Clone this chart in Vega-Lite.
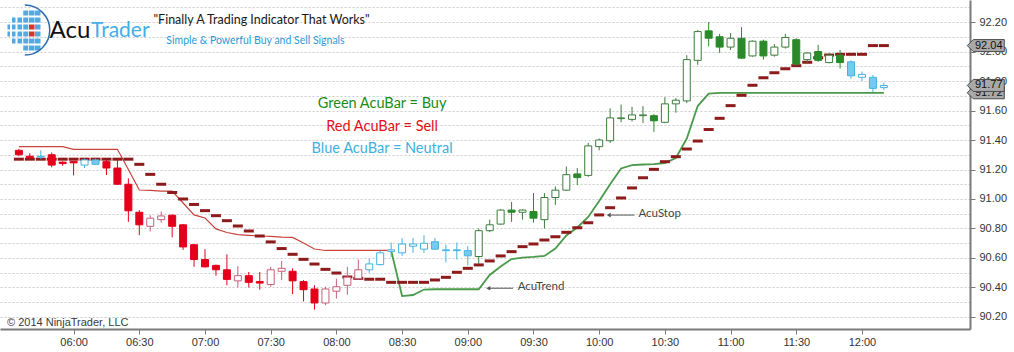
{
"$schema":"https://vega.github.io/schema/vega-lite/v6.json",
"width":970,"height":329,"autosize":"none",
"padding":{"left":0,"top":0,"right":44,"bottom":23},
"background":"white",
"config":{"view":{"stroke":null}},
"resolve":{"axis":{"y":"independent"}},
"datasets":{
"bars":[
{"t":"2014-01-02T05:35:00","o":91.33,"h":91.34,"l":91.29,"c":91.30,"signal":"Sell","stop":91.27,"dn":91.355},
{"t":"2014-01-02T05:40:00","o":91.29,"h":91.31,"l":91.27,"c":91.28,"signal":"Sell","stop":91.27,"dn":91.355},
{"t":"2014-01-02T05:45:00","o":91.285,"h":91.33,"l":91.27,"c":91.29,"signal":"Neutral","stop":91.27,"dn":91.355},
{"t":"2014-01-02T05:50:00","o":91.30,"h":91.315,"l":91.215,"c":91.23,"signal":"Sell","stop":91.27,"dn":91.355},
{"t":"2014-01-02T05:55:00","o":91.25,"h":91.255,"l":91.225,"c":91.24,"signal":"Sell","stop":91.27,"dn":91.355},
{"t":"2014-01-02T06:00:00","o":91.255,"h":91.255,"l":91.16,"c":91.245,"signal":"Sell","stop":91.27,"dn":91.337},
{"t":"2014-01-02T06:05:00","o":91.23,"h":91.275,"l":91.21,"c":91.265,"signal":"Neutral","stop":91.27,"dn":91.337},
{"t":"2014-01-02T06:10:00","o":91.265,"h":91.275,"l":91.23,"c":91.235,"signal":"Neutral","stop":91.27,"dn":91.337},
{"t":"2014-01-02T06:15:00","o":91.253,"h":91.265,"l":91.163,"c":91.21,"signal":"Sell","stop":91.27,"dn":91.337},
{"t":"2014-01-02T06:20:00","o":91.21,"h":91.265,"l":91.095,"c":91.10,"signal":"Sell","stop":91.27,"dn":91.337},
{"t":"2014-01-02T06:25:00","o":91.10,"h":91.14,"l":90.845,"c":90.92,"signal":"Sell","stop":91.27,"dn":91.20},
{"t":"2014-01-02T06:30:00","o":90.91,"h":90.925,"l":90.755,"c":90.825,"signal":"Sell","stop":91.235,"dn":91.061},
{"t":"2014-01-02T06:35:00","o":90.815,"h":90.89,"l":90.78,"c":90.87,"signal":"Sell","stop":91.167,"dn":91.058},
{"t":"2014-01-02T06:40:00","o":90.86,"h":90.915,"l":90.84,"c":90.885,"signal":"Sell","stop":91.10,"dn":91.054},
{"t":"2014-01-02T06:45:00","o":90.89,"h":90.895,"l":90.74,"c":90.815,"signal":"Sell","stop":91.044,"dn":91.054},
{"t":"2014-01-02T06:50:00","o":90.825,"h":90.83,"l":90.655,"c":90.675,"signal":"Sell","stop":91.0,"dn":90.973},
{"t":"2014-01-02T06:55:00","o":90.69,"h":90.695,"l":90.54,"c":90.59,"signal":"Sell","stop":90.963,"dn":90.892},
{"t":"2014-01-02T07:00:00","o":90.59,"h":90.66,"l":90.535,"c":90.54,"signal":"Sell","stop":90.921,"dn":90.871},
{"t":"2014-01-02T07:05:00","o":90.55,"h":90.555,"l":90.48,"c":90.52,"signal":"Sell","stop":90.887,"dn":90.797},
{"t":"2014-01-02T07:10:00","o":90.52,"h":90.625,"l":90.415,"c":90.455,"signal":"Sell","stop":90.853,"dn":90.773},
{"t":"2014-01-02T07:15:00","o":90.445,"h":90.545,"l":90.40,"c":90.48,"signal":"Sell","stop":90.817,"dn":90.759},
{"t":"2014-01-02T07:20:00","o":90.48,"h":90.505,"l":90.40,"c":90.435,"signal":"Sell","stop":90.783,"dn":90.754},
{"t":"2014-01-02T07:25:00","o":90.44,"h":90.505,"l":90.385,"c":90.43,"signal":"Sell","stop":90.749,"dn":90.749},
{"t":"2014-01-02T07:30:00","o":90.42,"h":90.54,"l":90.405,"c":90.52,"signal":"Sell","stop":90.709,"dn":90.746},
{"t":"2014-01-02T07:35:00","o":90.51,"h":90.58,"l":90.45,"c":90.53,"signal":"Sell","stop":90.664,"dn":90.742},
{"t":"2014-01-02T07:40:00","o":90.51,"h":90.53,"l":90.355,"c":90.445,"signal":"Sell","stop":90.625,"dn":90.74},
{"t":"2014-01-02T07:45:00","o":90.44,"h":90.45,"l":90.305,"c":90.385,"signal":"Sell","stop":90.591,"dn":90.702},
{"t":"2014-01-02T07:50:00","o":90.39,"h":90.415,"l":90.25,"c":90.295,"signal":"Sell","stop":90.559,"dn":90.661},
{"t":"2014-01-02T07:55:00","o":90.295,"h":90.405,"l":90.28,"c":90.39,"signal":"Sell","stop":90.523,"dn":90.651},
{"t":"2014-01-02T08:00:00","o":90.375,"h":90.46,"l":90.325,"c":90.405,"signal":"Sell","stop":90.498,"dn":90.651},
{"t":"2014-01-02T08:05:00","o":90.415,"h":90.54,"l":90.35,"c":90.47,"signal":"Sell","stop":90.471,"dn":90.651},
{"t":"2014-01-02T08:10:00","o":90.46,"h":90.59,"l":90.455,"c":90.52,"signal":"Sell","stop":90.462,"dn":90.651},
{"t":"2014-01-02T08:15:00","o":90.52,"h":90.595,"l":90.50,"c":90.56,"signal":"Neutral","stop":90.456,"dn":90.651},
{"t":"2014-01-02T08:20:00","o":90.555,"h":90.65,"l":90.55,"c":90.635,"signal":"Neutral","stop":90.456,"dn":90.651},
{"t":"2014-01-02T08:25:00","o":90.645,"h":90.705,"l":90.605,"c":90.655,"signal":"Neutral","stop":90.435,"dn":90.651,"up":90.651},
{"t":"2014-01-02T08:30:00","o":90.635,"h":90.735,"l":90.615,"c":90.695,"signal":"Neutral","stop":90.435,"up":90.342},
{"t":"2014-01-02T08:35:00","o":90.68,"h":90.735,"l":90.635,"c":90.695,"signal":"Neutral","stop":90.435,"up":90.349},
{"t":"2014-01-02T08:40:00","o":90.66,"h":90.755,"l":90.635,"c":90.70,"signal":"Neutral","stop":90.435,"up":90.386},
{"t":"2014-01-02T08:45:00","o":90.71,"h":90.735,"l":90.655,"c":90.66,"signal":"Neutral","stop":90.451,"up":90.388},
{"t":"2014-01-02T08:50:00","o":90.655,"h":90.69,"l":90.57,"c":90.65,"signal":"Neutral","stop":90.469,"up":90.388},
{"t":"2014-01-02T08:55:00","o":90.655,"h":90.705,"l":90.59,"c":90.65,"signal":"Neutral","stop":90.503,"up":90.388},
{"t":"2014-01-02T09:00:00","o":90.65,"h":90.68,"l":90.55,"c":90.615,"signal":"Neutral","stop":90.53,"up":90.388},
{"t":"2014-01-02T09:05:00","o":90.61,"h":90.80,"l":90.56,"c":90.785,"signal":"Buy","stop":90.553,"up":90.388},
{"t":"2014-01-02T09:10:00","o":90.785,"h":90.86,"l":90.775,"c":90.825,"signal":"Buy","stop":90.58,"up":90.485},
{"t":"2014-01-02T09:15:00","o":90.83,"h":90.93,"l":90.825,"c":90.925,"signal":"Buy","stop":90.614,"up":90.542},
{"t":"2014-01-02T09:20:00","o":90.925,"h":90.98,"l":90.845,"c":90.91,"signal":"Buy","stop":90.643,"up":90.593},
{"t":"2014-01-02T09:25:00","o":90.91,"h":90.93,"l":90.86,"c":90.925,"signal":"Buy","stop":90.677,"up":90.603},
{"t":"2014-01-02T09:30:00","o":90.915,"h":91.04,"l":90.84,"c":90.87,"signal":"Buy","stop":90.695,"up":90.607},
{"t":"2014-01-02T09:35:00","o":90.86,"h":91.04,"l":90.80,"c":91.01,"signal":"Buy","stop":90.722,"up":90.614},
{"t":"2014-01-02T09:40:00","o":91.01,"h":91.085,"l":90.96,"c":91.06,"signal":"Buy","stop":90.744,"up":90.664},
{"t":"2014-01-02T09:45:00","o":91.06,"h":91.22,"l":91.055,"c":91.165,"signal":"Buy","stop":90.774,"up":90.753},
{"t":"2014-01-02T09:50:00","o":91.17,"h":91.21,"l":91.095,"c":91.145,"signal":"Buy","stop":90.805,"up":90.807},
{"t":"2014-01-02T09:55:00","o":91.16,"h":91.38,"l":91.15,"c":91.36,"signal":"Buy","stop":90.839,"up":90.878},
{"t":"2014-01-02T10:00:00","o":91.355,"h":91.41,"l":91.33,"c":91.40,"signal":"Buy","stop":90.892,"up":90.986},
{"t":"2014-01-02T10:05:00","o":91.395,"h":91.615,"l":91.38,"c":91.55,"signal":"Buy","stop":90.941,"up":91.10},
{"t":"2014-01-02T10:10:00","o":91.545,"h":91.64,"l":91.52,"c":91.55,"signal":"Buy","stop":91.007,"up":91.207},
{"t":"2014-01-02T10:15:00","o":91.54,"h":91.625,"l":91.525,"c":91.57,"signal":"Buy","stop":91.075,"up":91.23},
{"t":"2014-01-02T10:20:00","o":91.565,"h":91.63,"l":91.515,"c":91.57,"signal":"Buy","stop":91.144,"up":91.234},
{"t":"2014-01-02T10:25:00","o":91.565,"h":91.575,"l":91.455,"c":91.53,"signal":"Buy","stop":91.201,"up":91.236},
{"t":"2014-01-02T10:30:00","o":91.52,"h":91.69,"l":91.515,"c":91.645,"signal":"Buy","stop":91.253,"up":91.244},
{"t":"2014-01-02T10:35:00","o":91.645,"h":91.685,"l":91.585,"c":91.67,"signal":"Buy","stop":91.287,"up":91.278},
{"t":"2014-01-02T10:40:00","o":91.665,"h":91.975,"l":91.65,"c":91.945,"signal":"Buy","stop":91.339,"up":91.41},
{"t":"2014-01-02T10:45:00","o":91.94,"h":92.145,"l":91.91,"c":92.135,"signal":"Buy","stop":91.393,"up":91.63},
{"t":"2014-01-02T10:50:00","o":92.14,"h":92.20,"l":92.035,"c":92.09,"signal":"Buy","stop":91.471,"up":91.715},
{"t":"2014-01-02T10:55:00","o":92.10,"h":92.12,"l":91.99,"c":92.03,"signal":"Buy","stop":91.547,"up":91.72},
{"t":"2014-01-02T11:00:00","o":92.03,"h":92.125,"l":92.01,"c":92.09,"signal":"Buy","stop":91.633,"up":91.72},
{"t":"2014-01-02T11:05:00","o":92.09,"h":92.165,"l":91.95,"c":91.955,"signal":"Buy","stop":91.703,"up":91.72},
{"t":"2014-01-02T11:10:00","o":91.97,"h":92.075,"l":91.965,"c":92.07,"signal":"Buy","stop":91.771,"up":91.72},
{"t":"2014-01-02T11:15:00","o":92.07,"h":92.08,"l":91.945,"c":91.97,"signal":"Buy","stop":91.822,"up":91.72},
{"t":"2014-01-02T11:20:00","o":91.975,"h":92.05,"l":91.965,"c":92.03,"signal":"Buy","stop":91.856,"up":91.72},
{"t":"2014-01-02T11:25:00","o":92.03,"h":92.12,"l":92.02,"c":92.095,"signal":"Buy","stop":91.883,"up":91.72},
{"t":"2014-01-02T11:30:00","o":92.08,"h":92.09,"l":91.905,"c":91.915,"signal":"Buy","stop":91.904,"up":91.72},
{"t":"2014-01-02T11:35:00","o":91.945,"h":91.995,"l":91.915,"c":91.99,"signal":"Buy","stop":91.927,"up":91.72},
{"t":"2014-01-02T11:40:00","o":92.0,"h":92.045,"l":91.93,"c":91.94,"signal":"Buy","stop":91.958,"up":91.72},
{"t":"2014-01-02T11:45:00","o":91.925,"h":91.99,"l":91.92,"c":91.975,"signal":"Buy","stop":91.976,"up":91.72},
{"t":"2014-01-02T11:50:00","o":91.975,"h":92.01,"l":91.885,"c":91.925,"signal":"Buy","stop":91.981,"up":91.72},
{"t":"2014-01-02T11:55:00","o":91.93,"h":91.94,"l":91.815,"c":91.835,"signal":"Neutral","stop":91.981,"up":91.72},
{"t":"2014-01-02T12:00:00","o":91.825,"h":91.865,"l":91.80,"c":91.845,"signal":"Neutral","stop":91.981,"up":91.72},
{"t":"2014-01-02T12:05:00","o":91.825,"h":91.84,"l":91.725,"c":91.75,"signal":"Neutral","stop":92.04,"up":91.72},
{"t":"2014-01-02T12:10:00","o":91.755,"h":91.79,"l":91.74,"c":91.77,"signal":"Neutral","stop":92.04,"up":91.72}
],
"tags":[
{"t":"2014-01-02T12:56:32","p":91.72,"label":"91.72"},
{"t":"2014-01-02T12:56:32","p":91.77,"label":"91.77"},
{"t":"2014-01-02T12:56:32","p":92.04,"label":"92.04"}
],
"arrows":[
{"t":"2014-01-02T10:04:21","t2":"2014-01-02T10:16:06","p":90.891},
{"t":"2014-01-02T09:09:21","t2":"2014-01-02T09:20:39","p":90.395}
]
},
"encoding":{
"x":{"field":"t","type":"temporal","title":null,
"scale":{"domain":[{"year":2014,"month":1,"date":2,"hours":5,"minutes":28,"seconds":40},{"year":2014,"month":1,"date":2,"hours":12,"minutes":47,"seconds":3}],"nice":false},
"axis":{"values":[
{"year":2014,"month":1,"date":2,"hours":6,"minutes":0},{"year":2014,"month":1,"date":2,"hours":6,"minutes":30},
{"year":2014,"month":1,"date":2,"hours":7,"minutes":0},{"year":2014,"month":1,"date":2,"hours":7,"minutes":30},
{"year":2014,"month":1,"date":2,"hours":8,"minutes":0},{"year":2014,"month":1,"date":2,"hours":8,"minutes":30},
{"year":2014,"month":1,"date":2,"hours":9,"minutes":0},{"year":2014,"month":1,"date":2,"hours":9,"minutes":30},
{"year":2014,"month":1,"date":2,"hours":10,"minutes":0},{"year":2014,"month":1,"date":2,"hours":10,"minutes":30},
{"year":2014,"month":1,"date":2,"hours":11,"minutes":0},{"year":2014,"month":1,"date":2,"hours":11,"minutes":30},
{"year":2014,"month":1,"date":2,"hours":12,"minutes":0}],
"format":"%H:%M","grid":false,"domainColor":"#7a7a7a","domainWidth":2,"tickColor":"#7a7a7a","tickSize":5,
"labelFont":"Liberation Sans","labelFontSize":11,"labelColor":"#333333","labelPadding":2,"labelFlush":false,"labelOverlap":false}}
},
"layer":[
{"data":{"name":"bars"},"transform":[{"filter":"isValid(datum.dn)"}],
 "mark":{"type":"line","color":"#c8433c","strokeWidth":1.2},
 "encoding":{"y":{"field":"dn","type":"quantitative","title":null,
  "scale":{"domain":[90.1186,92.3492],"zero":false,"nice":false},
  "axis":{"orient":"left","values":[90.2,90.3,90.4,90.5,90.6,90.7,90.8,90.9,91.0,91.1,91.2,91.3,91.4,91.5,91.6,91.7,91.8,91.9,92.0,92.1,92.2,92.3],
   "grid":true,"gridColor":"#cccccc","gridDash":[2,2],"gridWidth":1,
   "domain":false,"ticks":false,"labels":false,"title":null}}}},
{"data":{"name":"bars"},"transform":[{"filter":"isValid(datum.up)"}],
 "mark":{"type":"line","color":"#4b9a4b","strokeWidth":1.8},
 "encoding":{"y":{"field":"up","type":"quantitative","title":null,
  "axis":{"orient":"right","values":[90.2,90.4,90.6,90.8,91.0,91.2,91.4,91.6,91.8,92.0,92.2],"format":".2f",
   "grid":false,"domainColor":"#7a7a7a","domainWidth":2,"tickColor":"#7a7a7a","tickSize":5,
   "labelFont":"Liberation Sans","labelFontSize":11,"labelColor":"#333333","labelPadding":4,"labelOverlap":false,"labelBaseline":"middle","title":null}}}},
{"data":{"name":"bars"},
 "mark":{"type":"tick","orient":"horizontal","color":"#8e1b1b","thickness":3,"size":10,"opacity":1},
 "encoding":{"y":{"field":"stop","type":"quantitative","axis":null}}},
{"data":{"name":"bars"},
 "mark":{"type":"rule","strokeWidth":1},
 "encoding":{"y":{"field":"l","type":"quantitative","axis":null},"y2":{"field":"h"},
  "stroke":{"condition":[
   {"test":"datum.signal=='Sell' && datum.c<datum.o","value":"#e3001b"},
   {"test":"datum.signal=='Sell'","value":"#c4607a"},
   {"test":"datum.signal=='Buy' && datum.c<datum.o","value":"#2a8a2a"},
   {"test":"datum.signal=='Buy'","value":"#3c7c3c"}],"value":"#45b2de"}}},
{"data":{"name":"bars"},
 "mark":{"type":"bar","width":7,"strokeWidth":1,"orient":"vertical"},
 "encoding":{"y":{"field":"o","type":"quantitative","axis":null},"y2":{"field":"c"},
  "fill":{"condition":[
   {"test":"datum.signal=='Sell' && datum.c<datum.o","value":"#e3001b"},
   {"test":"datum.signal=='Buy' && datum.c<datum.o","value":"#2a8a2a"},
   {"test":"datum.signal=='Neutral' && datum.c<datum.o","value":"#74cbef"}],"value":"#ffffff"},
  "stroke":{"condition":[
   {"test":"datum.signal=='Sell' && datum.c<datum.o","value":"#e3001b"},
   {"test":"datum.signal=='Sell'","value":"#c4607a"},
   {"test":"datum.signal=='Buy' && datum.c<datum.o","value":"#2a8a2a"},
   {"test":"datum.signal=='Buy'","value":"#3c7c3c"}],"value":"#45b2de"}}},
{"data":{"name":"arrows"},
 "mark":{"type":"rule","color":"#555555","strokeWidth":1},
 "encoding":{"x2":{"field":"t2"},"y":{"field":"p","type":"quantitative","axis":null}}},
{"data":{"name":"arrows"},
 "mark":{"type":"point","shape":"triangle-left","filled":true,"color":"#555555","size":22,"opacity":1},
 "encoding":{"y":{"field":"p","type":"quantitative","axis":null}}},
{"data":{"values":[{"t":"2014-01-02T10:17:55","p":90.896,"label":"AcuStop"},{"t":"2014-01-02T09:22:47","p":90.401,"label":"AcuTrend"}]},
 "mark":{"type":"text","align":"left","baseline":"middle","font":"Lato","fontSize":11.5,"color":"#444444"},
 "encoding":{"y":{"field":"p","type":"quantitative","axis":null},"text":{"field":"label"}}},
{"data":{"values":[{"t":"2014-01-02T08:20:52","p":91.644,"label":"Green AcuBar = Buy"}]},
 "mark":{"type":"text","align":"center","baseline":"middle","font":"Lato","fontSize":14.5,"color":"#1a8c1a"},
 "encoding":{"y":{"field":"p","type":"quantitative","axis":null},"text":{"field":"label"}}},
{"data":{"values":[{"t":"2014-01-02T08:20:52","p":91.488,"label":"Red AcuBar = Sell"}]},
 "mark":{"type":"text","align":"center","baseline":"middle","font":"Lato","fontSize":14.5,"color":"#e0101a"},
 "encoding":{"y":{"field":"p","type":"quantitative","axis":null},"text":{"field":"label"}}},
{"data":{"values":[{"t":"2014-01-02T08:20:52","p":91.339,"label":"Blue AcuBar = Neutral"}]},
 "mark":{"type":"text","align":"center","baseline":"middle","font":"Lato","fontSize":14.5,"color":"#3fb0e0"},
 "encoding":{"y":{"field":"p","type":"quantitative","axis":null},"text":{"field":"label"}}},
{"data":{"values":[{"t":"2014-01-02T06:36:28","p":92.2136,"label":"\"Finally A Trading Indicator That Works\""}]},
 "mark":{"type":"text","align":"left","baseline":"middle","font":"Lato","fontSize":12.5,"color":"#1a1a1a"},
 "encoding":{"y":{"field":"p","type":"quantitative","axis":null},"text":{"field":"label"}}},
{"data":{"values":[{"t":"2014-01-02T06:42:20","p":92.0712,"label":"Simple & Powerful Buy and Sell Signals"}]},
 "mark":{"type":"text","align":"left","baseline":"middle","font":"Lato","fontSize":10.5,"color":"#2b9ad6"},
 "encoding":{"y":{"field":"p","type":"quantitative","axis":null},"text":{"field":"label"}}},
{"data":{"values":[{"t":"2014-01-02T05:49:01","p":92.139,"label":"Acu"}]},
 "mark":{"type":"text","align":"left","baseline":"middle","font":"Lato","fontSize":24,"color":"#111111"},
 "encoding":{"y":{"field":"p","type":"quantitative","axis":null},"text":{"field":"label"}}},
{"data":{"values":[{"t":"2014-01-02T06:08:54","p":92.139,"label":"Trader"}]},
 "mark":{"type":"text","align":"left","baseline":"middle","font":"Lato","fontSize":21,"color":"#45aee6","dx":-2},
 "encoding":{"y":{"field":"p","type":"quantitative","axis":null},"text":{"field":"label"}}},
{"data":{"values":[{"t":"2014-01-02T05:39:31","p":92.149}]},
 "mark":{"type":"point","filled":true,"fill":"#54a9e0","strokeWidth":0,"opacity":1,"size":4,
  "shape":"M -5.5 -19 h 5 v 5 h -5 Z M 0.25 -19 h 5.5 v 5 h -5.5 Z M 6.25 -19 h 5.5 v 5 h -5.5 Z M -16.75 -12 h 3.5 v 5 h -3.5 Z M -11.25 -12 h 4.5 v 5 h -4.5 Z M -5.5 -12 h 5 v 5 h -5 Z M 0.25 -12 h 5.5 v 5 h -5.5 Z M 6.25 -12 h 5.5 v 5 h -5.5 Z M -21.25 -5 h 2.5 v 5 h -2.5 Z M -16.75 -5 h 3.5 v 5 h -3.5 Z M -11.25 -5 h 4.5 v 5 h -4.5 Z M -5.5 -5 h 5 v 5 h -5 Z M 6.25 -5 h 5.5 v 5 h -5.5 Z M -21.25 2 h 2.5 v 5 h -2.5 Z M -16.75 2 h 3.5 v 5 h -3.5 Z M -11.25 2 h 4.5 v 5 h -4.5 Z M -5.5 2 h 5 v 5 h -5 Z M 6.25 2 h 5.5 v 5 h -5.5 Z M -16.75 9 h 3.5 v 5 h -3.5 Z M -11.25 9 h 4.5 v 5 h -4.5 Z M -5.5 9 h 5 v 5 h -5 Z M 0.25 9 h 5.5 v 5 h -5.5 Z M 6.25 9 h 5.5 v 5 h -5.5 Z M -5.5 16 h 5 v 5 h -5 Z M 0.25 16 h 5.5 v 5 h -5.5 Z M 6.25 16 h 5.5 v 5 h -5.5 Z"},
 "encoding":{"y":{"field":"p","type":"quantitative","axis":null}}},
{"data":{"values":[{"t":"2014-01-02T05:39:31","p":92.149}]},
 "mark":{"type":"point","filled":true,"fill":"#d9342b","strokeWidth":0,"opacity":1,"size":4,
  "shape":"M 0.25 -5 h 5.5 v 5 h -5.5 Z M 0.25 2 h 5.5 v 5 h -5.5 Z"},
 "encoding":{"y":{"field":"p","type":"quantitative","axis":null}}},
{"data":{"values":[{"t":"2014-01-02T05:39:31","p":92.149}]},
 "mark":{"type":"point","filled":false,"stroke":"#2a6db5","strokeWidth":1.5,"opacity":1,"size":4,
  "shape":"M -4 -24.5 A 25 25 0 0 1 -4 25.5"},
 "encoding":{"y":{"field":"p","type":"quantitative","axis":null}}},
{"data":{"values":[{"t":"2014-01-02T05:29:35","p":90.159,"label":"© 2014 NinjaTrader, LLC"}]},
 "mark":{"type":"text","align":"left","baseline":"middle","font":"Liberation Sans","fontSize":11,"color":"#3a3a3a"},
 "encoding":{"y":{"field":"p","type":"quantitative","axis":null},"text":{"field":"label"}}},
{"data":{"name":"tags"},"transform":[{"filter":"datum.label=='91.72'"}],
 "mark":{"type":"point","filled":true,"fill":"#a9a9a9","stroke":"#4a4a4a","strokeWidth":1,"opacity":1,"size":4,
  "shape":"M -18.5 0 L -12.5 -6 L 18.5 -6 L 18.5 6 L -12.5 6 Z"},
 "encoding":{"y":{"field":"p","type":"quantitative","axis":null}}},
{"data":{"name":"tags"},"transform":[{"filter":"datum.label=='91.72'"}],
 "mark":{"type":"text","align":"center","baseline":"middle","dx":3,"font":"Liberation Sans","fontSize":11,"color":"#111111"},
 "encoding":{"y":{"field":"p","type":"quantitative","axis":null},"text":{"field":"label"}}},
{"data":{"name":"tags"},"transform":[{"filter":"datum.label!='91.72'"}],
 "mark":{"type":"point","filled":true,"fill":"#a9a9a9","stroke":"#4a4a4a","strokeWidth":1,"opacity":1,"size":4,
  "shape":"M -18.5 0 L -12.5 -6 L 18.5 -6 L 18.5 6 L -12.5 6 Z"},
 "encoding":{"y":{"field":"p","type":"quantitative","axis":null}}},
{"data":{"name":"tags"},"transform":[{"filter":"datum.label!='91.72'"}],
 "mark":{"type":"text","align":"center","baseline":"middle","dx":3,"font":"Liberation Sans","fontSize":11,"color":"#111111"},
 "encoding":{"y":{"field":"p","type":"quantitative","axis":null},"text":{"field":"label"}}}
]
}
